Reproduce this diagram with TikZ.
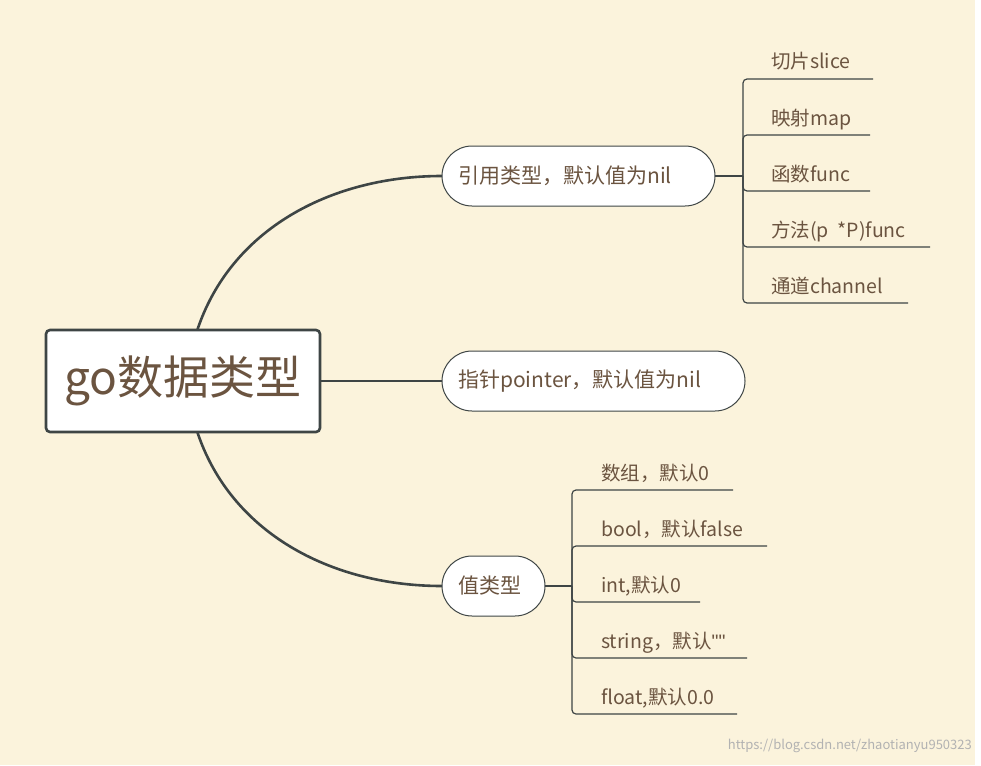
\documentclass[tikz,border=0pt]{standalone}
\usepackage{fontspec}
\setmainfont{Noto Sans CJK SC}
\newfontfamily\lat{Liberation Sans}
\definecolor{bg}{HTML}{FBF3DC}
\definecolor{ln}{HTML}{3E4545}
\definecolor{tx}{HTML}{6B5440}
\begin{document}
\begin{tikzpicture}[x=1pt,y=-1pt,
  conn/.style={draw=ln,line width=2.6pt},
  leafl/.style={draw=ln,line width=1.2pt,rounded corners=4},
  pill/.style={draw=ln,line width=1pt,fill=white,rounded corners=30,inner sep=0},
  lab/.style={text=tx,font=\fontsize{19.5}{22}\selectfont,anchor=base west,inner sep=0},
  blab/.style={text=tx,font=\fontsize{21}{24}\selectfont,anchor=west,inner sep=0}]
\useasboundingbox (0,0) rectangle (981,765);
\fill[bg] (0,0) rectangle (975,765);
\fill[white] (975,0) rectangle (981,765);
% curves
\coordinate (ct) at (197,331);
\coordinate (cb) at (197,431);
\draw[conn] (ct) .. controls (230,230) and (330,176) .. (442,176);
\draw[conn] (cb) .. controls (230,532) and (330,586) .. (442,586);
\draw[conn] (320,381) -- (442,381);
% central
\node[draw=ln,line width=2.6pt,fill=white,rounded corners=4,minimum width=274,minimum height=102,inner sep=0,text=tx,font=\fontsize{46}{52}\selectfont] (c) at (183,381) {go数据类型};
% branch nodes
\node[pill,minimum width=273,minimum height=60] (r) at (578.5,176) {};
\node[blab] at (458,176) {引用类型，默认值为nil};
\node[pill,minimum width=303,minimum height=60] (p) at (593.5,381) {};
\node[blab] at (458,381) {指针pointer，默认值为nil};
\node[pill,minimum width=103,minimum height=60] (v) at (493.5,586) {};
\node[blab] at (458,586) {值类型};
% ref leaves
\draw[leafl] (715,176) -- (743,176);
\foreach \y/\e/\t in {79/873/切片slice,135/870/映射map,191/870/函数func,247/930/方法(p\ \ *P)func,303/908/通道channel}{
  \draw[leafl] (743,176) -- (743,\y) -- (\e,\y);
  \node[lab] at (771,\y-10) {\t};
}
% value leaves
\draw[leafl] (545,586) -- (572,586);
\foreach \y/\e/\t in {490/733/数组，默认0,546/767/bool，默认false,602/700/{int,默认0},658/747/{string，默认{\lat ""}},714/737/{float,默认0.0}}{
  \draw[leafl] (572,586) -- (572,\y) -- (\e,\y);
  \node[lab] at (601,\y-10) {\t};
}
\node[text=gray!60,font=\fontsize{13}{15}\selectfont,anchor=east,inner sep=0] at (972,746) {https://blog.csdn.net/zhaotianyu950323};
\end{tikzpicture}
\end{document}
